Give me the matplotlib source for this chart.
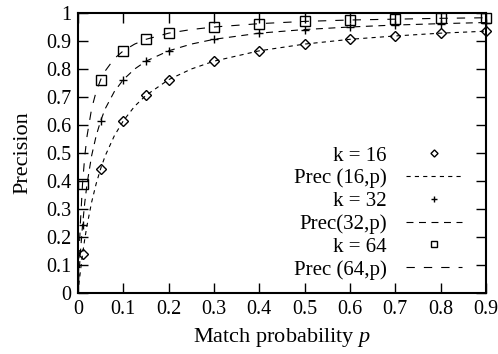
import matplotlib
matplotlib.use("Agg")
import matplotlib.pyplot as plt
from matplotlib.ticker import MultipleLocator, FormatStrFormatter

plt.rcParams['font.family'] = ['Liberation Serif', 'DejaVu Serif']
plt.rcParams['mathtext.fontset'] = 'custom'
plt.rcParams['mathtext.it'] = 'Liberation Serif:italic'
plt.rcParams['mathtext.rm'] = 'Liberation Serif'
plt.rcParams['lines.scale_dashes'] = False

# measured points
p_pts = [0.01, 0.05, 0.1, 0.15, 0.2, 0.3, 0.4, 0.5, 0.6, 0.7, 0.8, 0.9]
k16_pts = [0.138, 0.444, 0.615, 0.706, 0.762, 0.828, 0.865, 0.889, 0.906, 0.918, 0.928, 0.935]
k32_pts = [0.242, 0.615, 0.762, 0.828, 0.865, 0.906, 0.928, 0.941, 0.950, 0.957, 0.962, 0.966]
k64_pts = [0.390, 0.762, 0.865, 0.906, 0.928, 0.950, 0.962, 0.970, 0.975, 0.978, 0.981, 0.983]

# Prec(k,p) curves
p_curve = [0, 0.0025, 0.005, 0.01, 0.015, 0.02, 0.03, 0.04, 0.05, 0.06, 0.08, 0.1,
           0.125, 0.15, 0.2, 0.25, 0.3, 0.4, 0.5, 0.6, 0.7, 0.8, 0.9]
prec16 = [0, 0.038, 0.074, 0.138, 0.194, 0.242, 0.324, 0.390, 0.444, 0.490, 0.561, 0.615,
          0.667, 0.706, 0.762, 0.800, 0.828, 0.865, 0.889, 0.906, 0.918, 0.928, 0.935]
prec32 = [0, 0.074, 0.138, 0.242, 0.324, 0.390, 0.490, 0.561, 0.615, 0.658, 0.719, 0.762,
          0.800, 0.828, 0.865, 0.889, 0.906, 0.928, 0.941, 0.950, 0.957, 0.962, 0.966]
prec64 = [0, 0.138, 0.242, 0.390, 0.490, 0.561, 0.658, 0.719, 0.762, 0.793, 0.837, 0.865,
          0.889, 0.906, 0.928, 0.941, 0.950, 0.962, 0.970, 0.975, 0.978, 0.981, 0.983]

FS = 14.5

fig = plt.figure(figsize=(4.98, 3.54), dpi=100)
ax = fig.add_axes([78/498, 61/354, 408/498, 280/354])

lw = 0.8
ax.plot(p_pts, k16_pts, linestyle='none', marker='D', markersize=5, mfc='none',
        mec='black', mew=1.0, clip_on=False, label='k = 16')
ax.plot(p_curve, prec16, color='black', lw=lw, dashes=(3, 3), label='Prec (16,p)')
ax.plot(p_pts, k32_pts, linestyle='none', marker='+', markersize=6, mec='black',
        mew=1.0, clip_on=False, label='k = 32')
ax.plot(p_curve, prec32, color='black', lw=lw, dashes=(5, 4), label='Prec(32,p)')
ax.plot(p_pts, k64_pts, linestyle='none', marker='s', markersize=6.5, mfc='none',
        mec='black', mew=1.0, clip_on=False, label='k = 64')
ax.plot(p_curve, prec64, color='black', lw=lw, dashes=(6, 6.5), label='Prec (64,p)')

ax.set_xlim(0, 0.9)
ax.set_ylim(0, 1)
ax.xaxis.set_major_locator(MultipleLocator(0.1))
ax.yaxis.set_major_locator(MultipleLocator(0.1))
ax.xaxis.set_major_formatter(FormatStrFormatter('%g'))
ax.yaxis.set_major_formatter(FormatStrFormatter('%g'))
ax.tick_params(direction='in', length=7, width=1.0, top=True, right=True,
               labelsize=FS, pad=5)
for s in ax.spines.values():
    s.set_linewidth(1.5)

ax.set_xlabel('Match probability $p$', fontsize=16, labelpad=5)
ax.set_ylabel('Precision', fontsize=16, labelpad=10)

leg = ax.legend(loc='lower right', bbox_to_anchor=(0.941, 0.048), frameon=False,
                fontsize=15, markerfirst=False, handlelength=2.7, handletextpad=0.9,
                labelspacing=0.15, alignment='right', borderpad=0, borderaxespad=0,
                markerscale=0.72)

fig.savefig('out.png', dpi=100)
